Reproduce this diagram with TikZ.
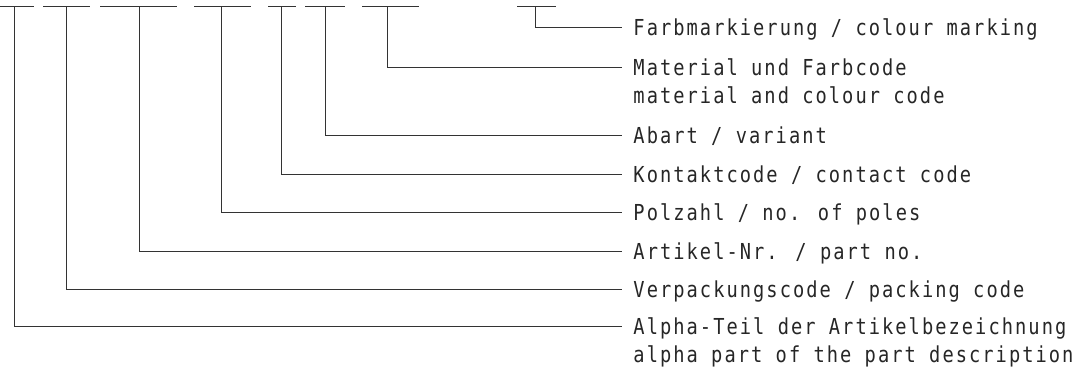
\documentclass[tikz,border=0pt]{standalone}
\usepackage{fontspec}
\setmainfont{DejaVu Sans Mono}[FakeStretch=0.85, LetterSpace=9.3]
\usetikzlibrary{positioning}

\begin{document}
\begin{tikzpicture}[
        x=1pt, y=-1pt,
        color=black!80,
        every path/.style={line width=0.9pt},
        lbl/.style={anchor=base west, inner xsep=11pt, inner ysep=0pt, align=left,
                    font=\fontsize{22}{28}\selectfont, text=black!85}
    ]
    \useasboundingbox (0,0) rectangle (1091,367);

    % Code fields (bars on top)
    \foreach \name/\a/\s/\b in {alf/0/14/34, pck/43/66/90, art/100/139/177, pol/194/221/251,
                                kon/268/281/296, var/305/325/345, mat/362/387/419, frb/517/535/556} {
        \draw (\a,6) -- (\b,6);
        \coordinate (\name) at (\s,6);
    }

    % Labels (two-line labels sit on their last line)
    \node[lbl] (farb)    at (622,35.5) {Farbmarkierung / colour marking};
    \node[lbl] (matcode) at (622,103.5){Material und Farbcode\\material and colour code};
    \node[lbl] (abart)   at (622,143.5){Abart / variant};
    \node[lbl] (kontakt) at (622,182)  {Kontaktcode / contact code};
    \node[lbl] (polzahl) at (622,220.5){Polzahl / no. of poles};
    \node[lbl] (artnr)   at (622,259)  {Artikel-Nr. / part no.};
    \node[lbl] (verpack) at (622,297.5){Verpackungscode / packing code};
    \node[lbl] (alpha)   at (622,362)  {Alpha-Teil der Artikelbezeichnung\\alpha part of the part description};

    % Leaders
    \draw (frb) |- ([yshift=8pt]farb.base west);
    \draw (mat) |- ([yshift=36pt]matcode.base west);
    \draw (var) |- ([yshift=8pt]abart.base west);
    \draw (kon) |- ([yshift=8pt]kontakt.base west);
    \draw (pol) |- ([yshift=8pt]polzahl.base west);
    \draw (art) |- ([yshift=8pt]artnr.base west);
    \draw (pck) |- ([yshift=8pt]verpack.base west);
    \draw (alf) |- ([yshift=36pt]alpha.base west);

\end{tikzpicture}
\end{document}
